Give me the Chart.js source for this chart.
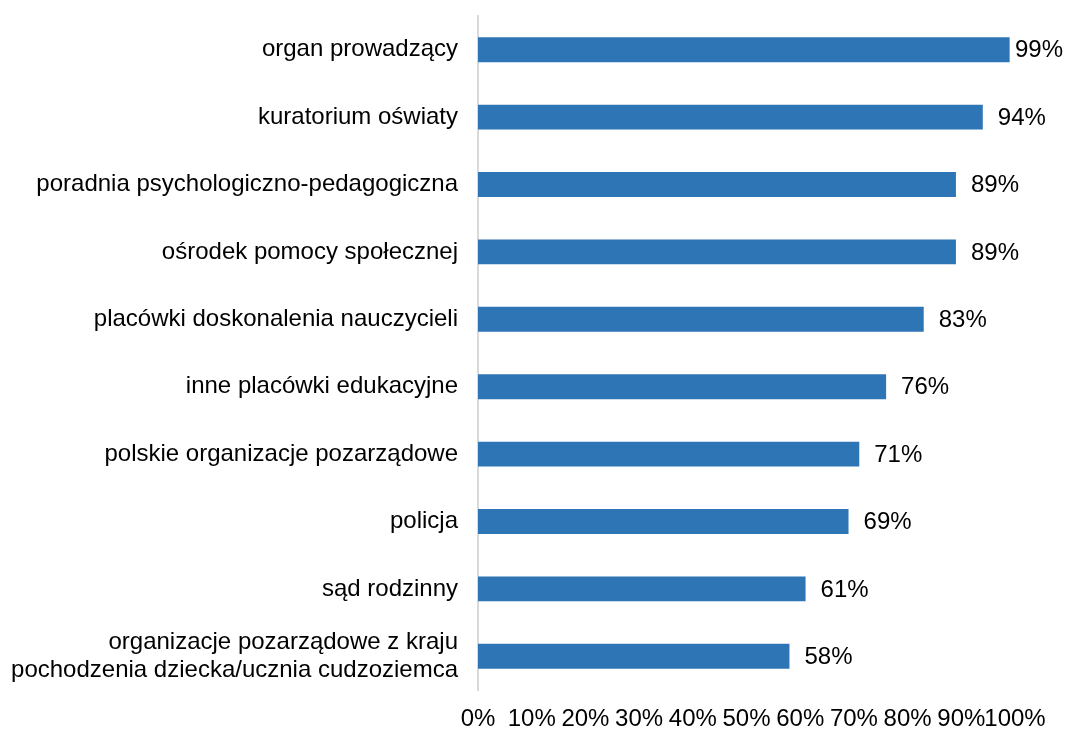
<!DOCTYPE html>
<html>
<head>
<meta charset="utf-8">
<script src="https://cdn.jsdelivr.net/npm/chart.js@4"></script>
<style>
  html, body { margin: 0; padding: 0; background: #fff; }
  #wrap { width: 1065px; height: 729px; }
</style>
</head>
<body>
<div id="wrap"><canvas id="barChart" width="1065" height="729"></canvas></div>
<script>
// categories, top to bottom
const categories = [
    'organ prowadzący',
    'kuratorium oświaty',
    'poradnia psychologiczno-pedagogiczna',
    'ośrodek pomocy społecznej',
    'placówki doskonalenia nauczycieli',
    'inne placówki edukacyjne',
    'polskie organizacje pozarządowe',
    'policja',
    'sąd rodzinny',
    ['organizacje pozarządowe z kraju', 'pochodzenia dziecka/ucznia cudzoziemca']
];
const values = [99, 94, 89, 89, 83, 76, 71, 69, 61, 58];
const xTicks = [0, 10, 20, 30, 40, 50, 60, 70, 80, 90, 100];

const FONT = 'Arial, "Liberation Sans", sans-serif';

// value labels at the end of each bar
const valueLabels = {
    id: 'valueLabels',
    afterDatasetsDraw(chart) {
        const ctx = chart.ctx;
        const meta = chart.getDatasetMeta(0);
        ctx.save();
        ctx.font = '24px ' + FONT;
        ctx.fillStyle = '#000';
        ctx.textAlign = 'left';
        ctx.textBaseline = 'middle';
        meta.data.forEach((bar, i) => {
            const txt = values[i] + '%';
            const w = ctx.measureText(txt).width;
            let x = bar.x + 15;
            if (x + w > chart.width - 2) x = chart.width - 2 - w;
            ctx.fillText(txt, x, bar.y + 1);
        });
        ctx.restore();
    }
};

const ctx = document.getElementById('barChart').getContext('2d');
new Chart(ctx, {
    type: 'bar',
    data: {
        labels: categories,
        datasets: [{
            data: values,
            backgroundColor: '#2e75b6',
            borderWidth: 0,
            barPercentage: 0.37,
            categoryPercentage: 1
        }]
    },
    options: {
        indexAxis: 'y',
        responsive: false,
        animation: false,
        layout: { padding: { top: 16, right: 50, bottom: 0, left: 0 } },
        plugins: {
            legend: { display: false },
            tooltip: { enabled: false }
        },
        scales: {
            x: {
                min: 0,
                max: 100,
                afterBuildTicks: (scale) => { scale.ticks = xTicks.map(v => ({ value: v })); },
                afterFit: (scale) => {
                    scale.height = 39;
                    scale.paddingLeft = 0;
                    scale.paddingRight = 0;
                },
                grid: { display: false, drawTicks: false },
                border: { display: false },
                ticks: {
                    autoSkip: false,
                    maxRotation: 0,
                    padding: 15,
                    color: '#000',
                    font: { family: FONT, size: 24 },
                    callback: (v) => v + '%'
                }
            },
            y: {
                afterFit: (scale) => {
                    scale.width = 478;
                    scale.paddingTop = 0;
                    scale.paddingBottom = 0;
                },
                grid: { display: false, drawTicks: false },
                border: { display: true, color: '#d9d9d9', width: 2 },
                ticks: {
                    padding: 20,
                    color: '#000',
                    font: { family: FONT, size: 24, lineHeight: 1.17 }
                }
            }
        }
    },
    plugins: [valueLabels]
});
</script>
</body>
</html>
